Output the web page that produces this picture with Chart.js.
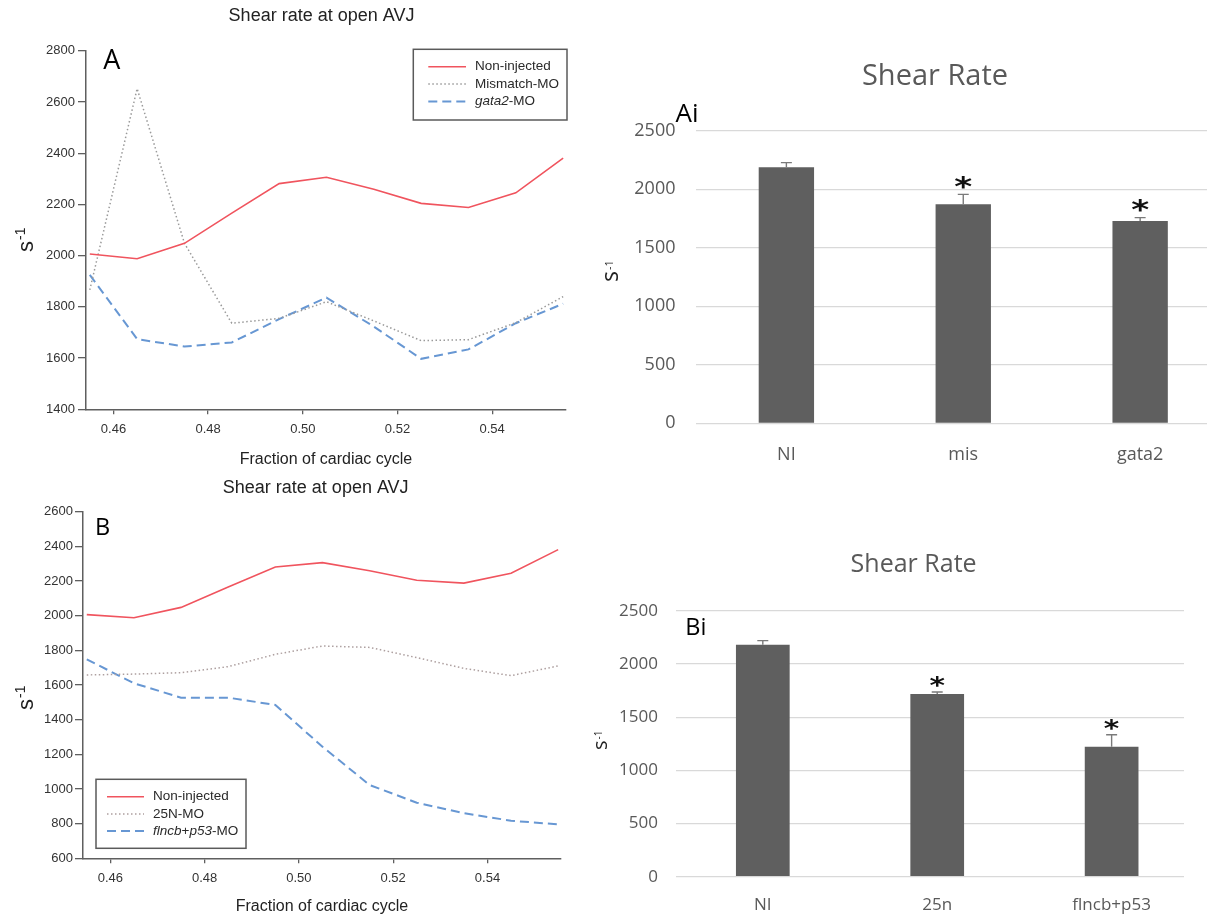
<!DOCTYPE html>
<html>
<head>
<meta charset="utf-8">
<title>Shear rate at open AVJ</title>
<script src="https://cdn.jsdelivr.net/npm/chart.js@4.4.1/dist/chart.umd.min.js"></script>
<style>
  html, body { margin: 0; padding: 0; background: #fff; width: 1207px; height: 919px; overflow: hidden; }
  body { position: relative; }
  .panel { position: absolute; }
  .panel canvas { display: block; }
</style>
</head>
<body>
<div class="panel" style="left:0;top:0;width:600px;height:470px"><canvas id="chartA"></canvas></div>
<div class="panel" style="left:0;top:470px;width:600px;height:449px"><canvas id="chartB"></canvas></div>
<div class="panel" style="left:600px;top:40px;width:607px;height:440px"><canvas id="chartAi"></canvas></div>
<div class="panel" style="left:580px;top:530px;width:627px;height:389px"><canvas id="chartBi"></canvas></div>

<script>
// ---- time-resolved shear rate (fraction of cardiac cycle) ----
const fractions = [0.455, 0.465, 0.475, 0.485, 0.495, 0.505, 0.515, 0.525, 0.535, 0.545, 0.555];
const fractionTicks = [0.46, 0.48, 0.50, 0.52, 0.54];
const nonInjected = [2006, 1988, 2048, 2166, 2281, 2306, 2259, 2204, 2188, 2245, 2381];
const mismatchMO  = [1866, 2652, 2048, 1736, 1755, 1820, 1745, 1668, 1672, 1738, 1840];
const gata2MO     = [1925, 1674, 1645, 1661, 1752, 1836, 1723, 1597, 1634, 1736, 1812];
const n25MO       = [1658, 1663, 1671, 1706, 1777, 1825, 1817, 1758, 1696, 1654, 1710];
const flncbP53MO  = [1748, 1610, 1527, 1527, 1485, 1244, 1023, 921, 860, 817, 796];

// ---- mean shear rate per group (with SEM, significance) ----
const groupsAi = ['NI', 'mis', 'gata2'];
const meanAi   = [2187, 1871, 1728];
const semAi    = [40, 85, 29];
const sigAi    = [false, true, true];

const groupsBi = ['NI', '25n', 'flncb+p53'];
const meanBi   = [2182, 1719, 1223];
const semBi    = [39, 19, 113];
const sigBi    = [false, true, true];

const LINE_FONT = "'Liberation Sans', Arial, sans-serif";
const BAR_FONT = "'Open Sans', 'Noto Sans', sans-serif";
const ITALIC_PARTS = /(gata2|flncb|p53)/;

// Panel heading, centred on a given point.
const figTitle = {
  id: 'figTitle',
  afterDraw(chart, args, o) {
    const ctx = chart.ctx;
    ctx.save();
    ctx.fillStyle = o.color;
    ctx.font = o.size + 'px ' + o.family;
    ctx.textAlign = 'center';
    ctx.textBaseline = 'middle';
    ctx.fillText(o.text, o.x, o.y);
    ctx.restore();
  }
};

// Boxed legend drawn inside the plot, built from the datasets' own styles.
const boxLegend = {
  id: 'boxLegend',
  afterDraw(chart, args, o) {
    const ctx = chart.ctx;
    ctx.save();
    ctx.fillStyle = '#fff';
    ctx.fillRect(o.x, o.y, o.w, o.h);
    ctx.strokeStyle = '#5a5a5a';
    ctx.lineWidth = 1.5;
    ctx.strokeRect(o.x, o.y, o.w, o.h);
    chart.data.datasets.forEach((ds, i) => {
      const cy = o.y + o.firstRow + i * o.rowGap;
      ctx.beginPath();
      ctx.setLineDash(ds.borderDash || []);
      ctx.lineCap = 'butt';
      ctx.strokeStyle = ds.borderColor;
      ctx.lineWidth = ds.borderWidth;
      ctx.moveTo(o.x + o.sx0, cy);
      ctx.lineTo(o.x + o.sx1, cy);
      ctx.stroke();
      ctx.setLineDash([]);
      ctx.fillStyle = '#2a2a2a';
      ctx.textBaseline = 'middle';
      ctx.textAlign = 'left';
      let tx = o.x + o.tx;
      ds.label.split(ITALIC_PARTS).filter(s => s.length).forEach(seg => {
        const m = seg.match(ITALIC_PARTS);
        const it = m !== null && m[0] === seg;
        ctx.font = (it ? 'italic ' : '') + o.size + 'px ' + LINE_FONT;
        ctx.fillText(seg, tx, cy);
        tx += ctx.measureText(seg).width;
      });
    });
    ctx.restore();
  }
};

// Rotated unit label "s-1" with a raised exponent.
const unitTitle = {
  id: 'unitTitle',
  afterDraw(chart, args, o) {
    const ctx = chart.ctx;
    ctx.save();
    ctx.translate(o.x, o.y);
    ctx.rotate(-Math.PI / 2);
    ctx.fillStyle = o.color;
    ctx.textBaseline = 'alphabetic';
    ctx.textAlign = 'left';
    ctx.font = o.size + 'px ' + o.family;
    ctx.fillText('s', 0, 0);
    const w = ctx.measureText('s').width;
    ctx.font = o.supSize + 'px ' + o.family;
    ctx.fillText('-1', w + o.gap, -o.raise);
    ctx.restore();
  }
};

// Panel letter.
const panelTag = {
  id: 'panelTag',
  afterDraw(chart, args, o) {
    const ctx = chart.ctx;
    ctx.save();
    ctx.fillStyle = '#000';
    ctx.font = o.size + 'px ' + BAR_FONT;
    ctx.textBaseline = 'alphabetic';
    ctx.textAlign = 'left';
    ctx.fillText(o.text, o.x, o.y);
    ctx.restore();
  }
};

// Upward SEM whiskers and significance stars on bars.
const errorBars = {
  id: 'errorBars',
  afterDatasetsDraw(chart, args, o) {
    const ctx = chart.ctx;
    const ys = chart.scales.y;
    chart.data.datasets.forEach((ds, di) => {
      chart.getDatasetMeta(di).data.forEach((bar, i) => {
        const top = ys.getPixelForValue(ds.means[i] + ds.sem[i]);
        ctx.save();
        ctx.strokeStyle = o.color;
        ctx.lineWidth = o.width;
        ctx.beginPath();
        ctx.moveTo(bar.x, bar.y);
        ctx.lineTo(bar.x, top);
        ctx.moveTo(bar.x - o.cap / 2, top);
        ctx.lineTo(bar.x + o.cap / 2, top);
        ctx.stroke();
        if (ds.sig[i]) {
          ctx.font = 'bold 40px "DejaVu Sans"';
          const m = ctx.measureText('*');
          const gw = m.actualBoundingBoxRight + m.actualBoundingBoxLeft;
          const gh = m.actualBoundingBoxAscent + m.actualBoundingBoxDescent;
          ctx.translate(bar.x, top - o.starGap);
          ctx.scale(o.starW / gw, o.starH / gh);
          ctx.fillStyle = '#111';
          ctx.textAlign = 'left';
          ctx.textBaseline = 'alphabetic';
          ctx.fillText('*', m.actualBoundingBoxLeft - gw / 2, m.actualBoundingBoxAscent - gh / 2);
        }
        ctx.restore();
      });
    });
  }
};

function lineChart(id, o) {
  const axisGrid = { display: true, drawOnChartArea: false, drawTicks: true, color: '#5f5f5f', lineWidth: 1.3 };
  return new Chart(document.getElementById(id), {
    type: 'line',
    data: {
      datasets: o.series.map(s => ({
        label: s.label,
        data: fractions.map((x, i) => ({ x: x, y: s.values[i] })),
        borderColor: s.color,
        borderWidth: s.width,
        borderDash: s.dash,
        borderCapStyle: 'butt',
        pointRadius: 0,
        tension: 0,
        fill: false
      }))
    },
    options: {
      responsive: true,
      maintainAspectRatio: false,
      animation: false,
      events: [],
      layout: { padding: { left: 0, right: o.padR, top: o.top, bottom: 0 } },
      plugins: {
        legend: { display: false },
        tooltip: { enabled: false },
        title: { display: false },
        figTitle: { text: 'Shear rate at open AVJ', x: o.titleX, y: o.titleY, size: 18, color: '#222', family: LINE_FONT },
        boxLegend: o.legend,
        unitTitle: { x: 32.5, y: o.unitY, size: 22, supSize: 14, gap: 1, raise: 8, color: '#222', family: LINE_FONT },
        panelTag: o.tag
      },
      scales: {
        x: {
          type: 'linear', min: 0.4542, max: 0.5556,
          afterBuildTicks: ax => { ax.ticks = fractionTicks.map(v => ({ value: v })); },
          afterFit: ax => { ax.height = o.xH; },
          ticks: { callback: v => Number(v).toFixed(2), color: '#333', font: { family: LINE_FONT, size: 13 }, padding: 7.2, maxRotation: 0, autoSkip: false },
          grid: Object.assign({ tickLength: 5 }, axisGrid),
          border: { display: true, color: '#5f5f5f', width: 1.5 },
          title: { display: true, text: 'Fraction of cardiac cycle', color: '#222', font: { family: LINE_FONT, size: 16, lineHeight: 1.2 }, padding: { top: 0, bottom: o.xTitlePad } }
        },
        y: {
          min: o.yMin, max: o.yMax,
          afterFit: ax => { ax.width = o.yW; },
          ticks: { stepSize: 200, callback: v => String(v), color: '#333', font: { family: LINE_FONT, size: 13 }, padding: o.yPad },
          grid: Object.assign({ tickLength: 8 }, axisGrid),
          border: { display: true, color: '#5f5f5f', width: 1.5 }
        }
      }
    },
    plugins: [figTitle, boxLegend, unitTitle, panelTag]
  });
}

function barChart(id, o) {
  return new Chart(document.getElementById(id), {
    type: 'bar',
    data: {
      datasets: [{
        label: 'Shear Rate',
        data: o.means.map((v, i) => ({ x: i, y: v })),
        means: o.means,
        sem: o.sem,
        sig: o.sig,
        backgroundColor: '#5f5f5f',
        categoryPercentage: 1,
        barPercentage: o.barPct
      }]
    },
    options: {
      responsive: true,
      maintainAspectRatio: false,
      animation: false,
      events: [],
      layout: { padding: { left: 0, right: o.padR, top: o.top, bottom: 0 } },
      plugins: {
        legend: { display: false },
        tooltip: { enabled: false },
        title: { display: false },
        figTitle: { text: 'Shear Rate', x: o.titleX, y: o.titleY, size: o.titleSize, color: '#595959', family: BAR_FONT },
        errorBars: { color: '#7a7a7a', width: 1.4, cap: 11, starGap: o.starGap, starW: o.starW, starH: o.starH },
        unitTitle: o.unit,
        panelTag: o.tag
      },
      scales: {
        x: {
          type: 'linear', offset: false, min: o.xMin, max: o.xMax,
          afterBuildTicks: ax => { ax.ticks = o.groups.map((g, i) => ({ value: i })); },
          afterFit: ax => { ax.height = o.xH; },
          grid: { display: false, drawTicks: false, offset: false },
          border: { display: false },
          ticks: { callback: (v, i) => o.groups[i], color: '#595959', font: { family: BAR_FONT, size: o.fontSize }, padding: o.xPad, maxRotation: 0, autoSkip: false }
        },
        y: {
          min: 0, max: 2500,
          afterFit: ax => { ax.width = o.yW; },
          ticks: { stepSize: 500, callback: v => String(v), color: '#595959', font: { family: BAR_FONT, size: o.fontSize }, padding: o.yPad },
          grid: { color: '#d9d9d9', lineWidth: 1.3, drawTicks: false },
          border: { display: false }
        }
      }
    },
    plugins: [figTitle, errorBars, unitTitle, panelTag]
  });
}

lineChart('chartA', {
  series: [
    { label: 'Non-injected', values: nonInjected, color: '#f0545e', width: 1.6, dash: [] },
    { label: 'Mismatch-MO', values: mismatchMO, color: '#9a9a9a', width: 1.5, dash: [1.5, 2.5] },
    { label: 'gata2-MO', values: gata2MO, color: '#6797d3', width: 2, dash: [9, 5] }
  ],
  yMin: 1400, yMax: 2800,
  top: 50.7, padR: 34, yW: 86, yPad: 3, xH: 60.7, xTitlePad: 0.4,
  titleX: 321.5, titleY: 15.7, unitY: 252,
  legend: { x: 413.3, y: 49.3, w: 153.7, h: 70.7, firstRow: 17.4, rowGap: 17.4, sx0: 15, sx1: 52.7, tx: 61.7, size: 13.5 },
  tag: { text: 'A', x: 103.3, y: 69.3, size: 27 }
});

lineChart('chartB', {
  series: [
    { label: 'Non-injected', values: nonInjected, color: '#f0545e', width: 1.6, dash: [] },
    { label: '25N-MO', values: n25MO, color: '#ad9f9f', width: 1.5, dash: [1.5, 2.5] },
    { label: 'flncb+p53-MO', values: flncbP53MO, color: '#6797d3', width: 2, dash: [9, 5] }
  ],
  yMin: 600, yMax: 2600,
  top: 41.7, padR: 39, yW: 83, yPad: 2, xH: 60.7, xTitlePad: 2.7,
  titleX: 315.7, titleY: 18.3, unitY: 240,
  legend: { x: 96, y: 309.3, w: 150, h: 69, firstRow: 17.4, rowGap: 17.2, sx0: 11, sx1: 48, tx: 57, size: 13.5 },
  tag: { text: 'B', x: 95, y: 65, size: 23.5 }
});

barChart('chartAi', {
  groups: groupsAi, means: meanAi, sem: semAi, sig: sigAi,
  xMin: -0.511, xMax: 2.378,
  barPct: 0.313, top: 90.7, padR: 0, yW: 96, yPad: 20.5, xH: 56.7, xPad: 20.9,
  fontSize: 18, titleSize: 29, titleX: 335, titleY: 36.7,
  starGap: 12.6, starW: 18, starH: 13.3,
  unit: { x: 18, y: 242, size: 23, supSize: 11, gap: 1, raise: 5, color: '#222', family: BAR_FONT },
  tag: { text: 'Ai', x: 75.5, y: 81.7, size: 26 }
});

barChart('chartBi', {
  groups: groupsBi, means: meanBi, sem: semBi, sig: sigBi,
  xMin: -0.5006, xMax: 2.415,
  barPct: 0.308, top: 81, padR: 23, yW: 95.5, yPad: 17.5, xH: 42.3, xPad: 18.1,
  fontSize: 17, titleSize: 25, titleX: 333.6, titleY: 35,
  starGap: 11.4, starW: 15.5, starH: 11.7,
  unit: { x: 27, y: 220, size: 20, supSize: 10, gap: 1, raise: 5, color: '#222', family: BAR_FONT },
  tag: { text: 'Bi', x: 105.2, y: 105, size: 23.5 }
});
</script>
</body>
</html>
